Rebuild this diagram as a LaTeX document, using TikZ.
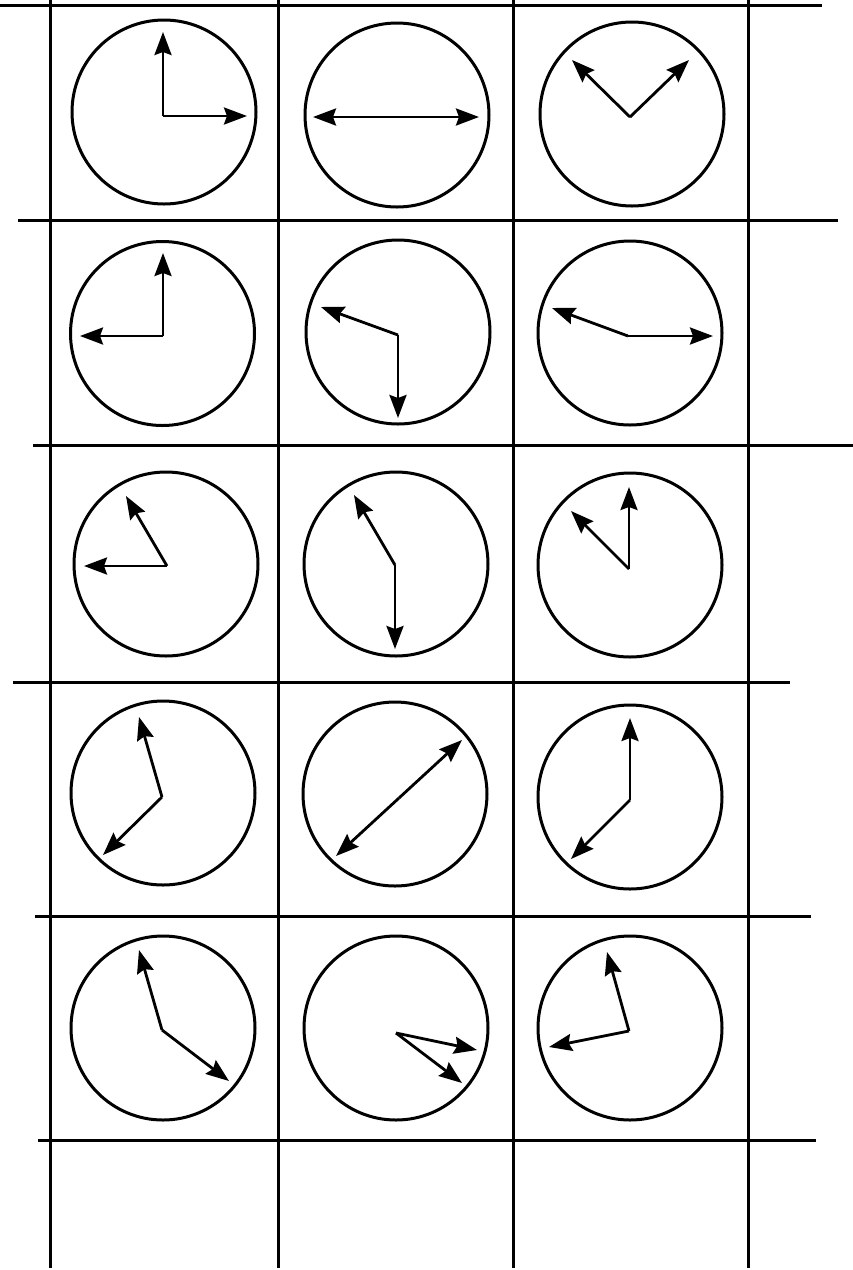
\documentclass[tikz,border=0pt]{standalone}
\usepackage{tikz}
\usetikzlibrary{arrows.meta}

\begin{document}
\begin{tikzpicture}[x=1pt,y=-1pt,
    face/.style={draw,circle,line width=3pt,minimum size=184pt,inner sep=0pt},
    hand/.style={line width=2.8pt,-{Stealth[length=23pt,width=17pt,inset=3pt]}},
    rule/.style={line width=3pt}]
        \useasboundingbox (0,0) rectangle (853,1270);
        % grid lines
        \foreach \x in {50,278,513,748} {
          \draw[rule] (\x,0) -- (\x,1268);
        }
        \foreach \y/\from/\to in {5/0/822,220/18/838,445/33/853,682/13/790,916/35/811,1140/38/816} {
          \draw[rule] (\from,\y) -- (\to,\y);
        }
        % clock faces and hands
        \foreach \n/\fx/\fy/\hx/\hy/\ax/\ay/\bx/\by in {
            1/164/112/163/116/163/32/247/116,
            2/397/115/396/117/313/117/479/117,
            3/632/114/630/117/572/60/689/60,
            4/162.5/333.5/163/336/163/253/80/336,
            5/398/332/398/335/321/307/398/418,
            6/630/333/628/336/552/308/713/336,
            7/166/564/167/566/126/496/84/566,
            8/396/564/395/565/354/495/395/649,
            9/630/565/629/569/629/487/571/511,
            10/163/793/162/797/139/717/103/855,
            11/395/794/399/798/336/856/462/740,
            12/630/797/630/800/630/718/571/859,
            13/163/1028/162/1030/139/950/229/1081,
            14/396/1028/396/1033/477/1050/462/1083,
            15/630/1028/629/1031/607/952/549/1047} {
          \node[face] (face\n) at (\fx,\fy) {};
          \coordinate (hub\n) at (\hx,\hy);
          \coordinate (tipa\n) at (\ax,\ay);
          \coordinate (tipb\n) at (\bx,\by);
          \draw[hand] (hub\n) -- (tipa\n);
          \draw[hand] (hub\n) -- (tipb\n);
        }
      \end{tikzpicture}
\end{document}
